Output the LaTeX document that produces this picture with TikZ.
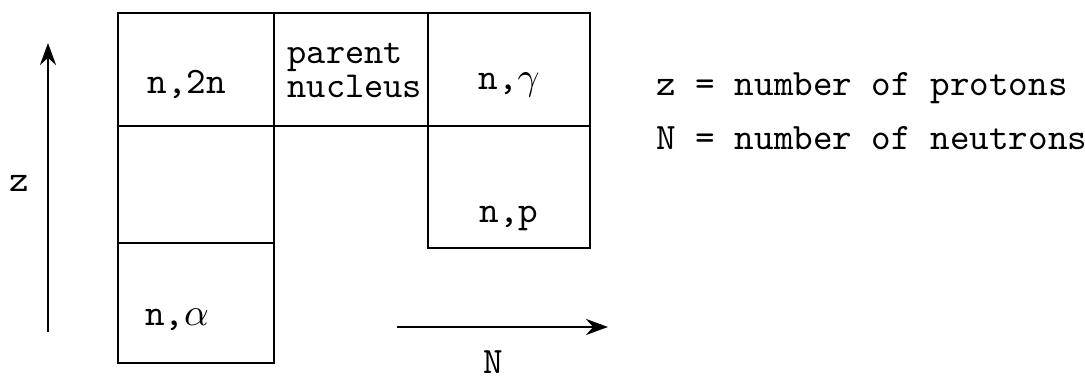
\documentclass[tikz,border=0pt]{standalone}
\usepackage{amsmath}
\usepackage{amssymb}
\usepackage{tikz}
\usepackage{xcolor}
\usetikzlibrary{positioning,arrows.meta}

\begin{document}
\begin{tikzpicture}[x=0.01cm, y=-0.01cm,
    font=\ttfamily\fontsize{10.6}{12}\selectfont,
    cell/.style={rectangle, draw, line width=0.7pt, inner sep=0pt, outer sep=0pt, minimum width=1.56cm},
    lbl/.style={inner sep=0pt},
    axis/.style={line width=0.7pt, -{Stealth[length=0.22cm, width=0.16cm]}}]
    \useasboundingbox (0,0) rectangle (1085,377);

    \node (ctwon) [cell, minimum height=1.13cm] at (196,69.5) {};
    \node (cempty) [cell, minimum height=1.17cm, below=0pt of ctwon] {};
    \node (calpha) [cell, minimum height=1.20cm, below=0pt of cempty] {};
    \node (cparent) [cell, minimum width=1.54cm, minimum height=1.13cm, right=0pt of ctwon] {};
    \node (cgamma) [cell, minimum width=1.62cm, minimum height=1.13cm, right=0pt of cparent] {};
    \node (cp) [cell, minimum width=1.62cm, minimum height=1.22cm, below=0pt of cgamma] {};

    \node (twon) [lbl] at ([xshift=-0.09cm, yshift=-0.15cm]ctwon.center) {n,2n};
    \node (parent) [lbl, anchor=west, align=left, font=\ttfamily\fontsize{10.4}{8.2}\selectfont] at ([xshift=0.13cm, yshift=-0.01cm]cparent.west) {parent\\nucleus};
    \node (gamma) [lbl] at ([yshift=-0.15cm]cgamma.center) {n,$\gamma$};
    \node (p) [lbl] at ([yshift=-0.31cm]cp.center) {n,p};
    \node (alpha) [lbl] at ([xshift=-0.19cm, yshift=-0.17cm]calpha.center) {n,$\alpha$};

    \coordinate (zbot) at (48,332);
    \coordinate (ztop) at (48,43);
    \draw [axis] (zbot) -- (ztop);
    \node (z) [lbl] at (19,183) {z};

    \coordinate (nleft) at (397,327);
    \coordinate (nright) at (608,327);
    \draw [axis] (nleft) -- (nright);
    \node (n) [lbl, below=0.23cm of nleft, xshift=0.96cm] {N};

    \node (zkey) [lbl, anchor=west] at (656,88) {z = number of protons};
    \node (nkey) [lbl, anchor=west] at (656,138) {N = number of neutrons};
\end{tikzpicture}
\end{document}
